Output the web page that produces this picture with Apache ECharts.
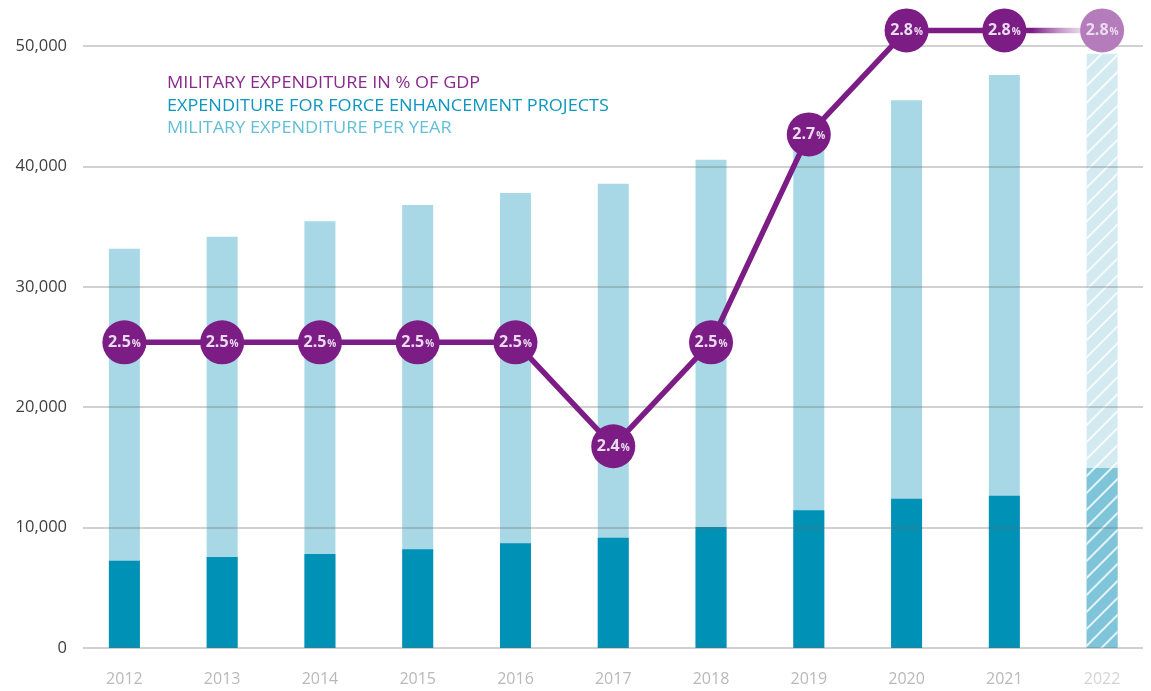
<!DOCTYPE html>
<html>
<head>
<meta charset="utf-8">
<script src="https://cdn.jsdelivr.net/npm/echarts@6/dist/echarts.min.js"></script>
<style>
  html, body { margin: 0; padding: 0; background: #fff; }
  #chart { width: 1151px; height: 691px; }
</style>
</head>
<body>
<div id="chart"></div>
<script>
// values
var years = ['2012', '2013', '2014', '2015', '2016', '2017', '2018', '2019', '2020', '2021', '2022'];
var spend_per_year = [33150, 34150, 35450, 36800, 37800, 38550, 40550, 42600, 45500, 47600, 49350];
var force_projects = [7250, 7550, 7800, 8200, 8700, 9150, 10050, 11450, 12400, 12650, 14950];
var gdp_share = [2.5, 2.5, 2.5, 2.5, 2.5, 2.4, 2.5, 2.7, 2.8, 2.8, 2.8];
var legend_lines = [
  'MILITARY EXPENDITURE IN % OF GDP',
  'EXPENDITURE FOR FORCE ENHANCEMENT PROJECTS',
  'MILITARY EXPENDITURE PER YEAR'
];

var PURPLE = '#7c1d86';
var last = years.length - 1;   // 2022 is a planned year, drawn hatched / faded

var hatch = {
  symbol: 'rect',
  symbolSize: 1,
  dashArrayX: [1, 0],
  dashArrayY: [1.2, 10],
  rotation: -Math.PI / 4,
  color: 'rgba(255,255,255,0.8)'
};

var catData = [];
var lightBars = [];
var darkBars = [];
var lineMain = [];
var lineFade = [];
for (var i = 0; i < years.length; i++) {
  if (i == last) {
    catData.push({ value: years[i], textStyle: { color: '#d4d4d4' } });
    lightBars.push({ value: spend_per_year[i], itemStyle: { color: '#d3eaf1', decal: hatch } });
    darkBars.push({ value: force_projects[i], itemStyle: { color: '#7fc5d9', decal: hatch } });
    lineMain.push('-');
    lineFade.push({ value: gdp_share[i], itemStyle: { color: '#b57cbb', opacity: 1 } });
  } else {
    catData.push(years[i]);
    lightBars.push(spend_per_year[i]);
    darkBars.push(force_projects[i]);
    lineMain.push(gdp_share[i]);
    if (i == last - 1) {
      lineFade.push({ value: gdp_share[i], symbol: 'none', label: { show: false } });
    } else {
      lineFade.push('-');
    }
  }
}

var pctLabel = {
  show: true,
  position: 'inside',
  formatter: function (p) {
    var v = (typeof p.value == 'object') ? p.value.value : p.value;
    return '{a|' + Number(v).toFixed(1) + '}{b|%}';
  },
  rich: {
    a: { color: '#eadcee', fontSize: 16, fontWeight: 'bold', fontFamily: 'Open Sans' },
    b: { color: '#eadcee', fontSize: 10, fontWeight: 'bold', fontFamily: 'Open Sans', padding: [4, 0, 0, 1] }
  }
};

// legend is plain text lines, no symbols
var legendText = [];
var legendColors = ['#8a2a8e', '#0e97bf', '#62bfd8'];
for (var j = 0; j < legend_lines.length; j++) {
  legendText.push({
    type: 'text',
    left: 167,
    top: 76 + j * 22.5,
    scaleX: 1.165,
    style: {
      text: legend_lines[j],
      fill: legendColors[j],
      font: '500 15.5px "Open Sans"'
    }
  });
}

var myChart = echarts.init(document.getElementById('chart'));
var option = {
  animation: false,
  backgroundColor: '#ffffff',
  textStyle: { fontFamily: 'Open Sans' },
  graphic: legendText,
  grid: [
    { left: 75.5, right: -1.5, top: 46, bottom: 43 },
    { left: 83, right: 8, top: 46, bottom: 43 }
  ],
  xAxis: [
    {
      type: 'category',
      gridIndex: 0,
      data: catData,
      axisLine: { show: false },
      axisTick: { show: false },
      axisLabel: { color: '#b9b9b9', fontSize: 16, margin: 23 }
    },
    { type: 'value', gridIndex: 1, min: 0, max: 1, show: false }
  ],
  yAxis: [
    { type: 'value', gridIndex: 0, min: 0, max: 50000, show: false },
    { type: 'value', gridIndex: 0, min: 2.206, max: 2.785, show: false },
    {
      type: 'value',
      gridIndex: 1,
      min: 0,
      max: 50000,
      interval: 10000,
      z: 3,
      axisLine: { show: false },
      axisTick: { show: false },
      axisLabel: {
        color: '#3f3f3f',
        fontSize: 16.5,
        margin: 16,
        formatter: function (v) { return v.toLocaleString('en-US'); }
      },
      splitLine: { lineStyle: { color: 'rgba(110,110,110,0.42)', width: 1.5 } }
    }
  ],
  series: [
    {
      name: 'Military expenditure per year',
      type: 'bar',
      xAxisIndex: 0,
      yAxisIndex: 0,
      barWidth: 31,
      barGap: '-100%',
      itemStyle: { color: '#a8d8e5' },
      data: lightBars
    },
    {
      name: 'Expenditure for force enhancement projects',
      type: 'bar',
      xAxisIndex: 0,
      yAxisIndex: 0,
      barWidth: 31,
      barGap: '-100%',
      itemStyle: { color: '#0091b6' },
      data: darkBars
    },
    {
      name: 'Military expenditure in % of GDP (planned)',
      type: 'line',
      xAxisIndex: 0,
      yAxisIndex: 1,
      z: 9,
      clip: false,
      symbol: 'circle',
      symbolSize: 44,
      lineStyle: {
        width: 5.5,
        color: {
          type: 'linear', x: 0, y: 0, x2: 1, y2: 0,
          colorStops: [
            { offset: 0, color: PURPLE },
            { offset: 0.3, color: PURPLE },
            { offset: 0.75, color: 'rgba(180,124,187,0.35)' },
            { offset: 1, color: 'rgba(180,124,187,0.2)' }
          ]
        }
      },
      itemStyle: { color: '#b57cbb' },
      label: pctLabel,
      data: lineFade
    },
    {
      name: 'Military expenditure in % of GDP',
      type: 'line',
      xAxisIndex: 0,
      yAxisIndex: 1,
      z: 10,
      clip: false,
      symbol: 'circle',
      symbolSize: 44,
      lineStyle: { width: 5.5, color: PURPLE },
      itemStyle: { color: PURPLE },
      label: pctLabel,
      data: lineMain
    }
  ]
};
myChart.setOption(option);
</script>
</body>
</html>
